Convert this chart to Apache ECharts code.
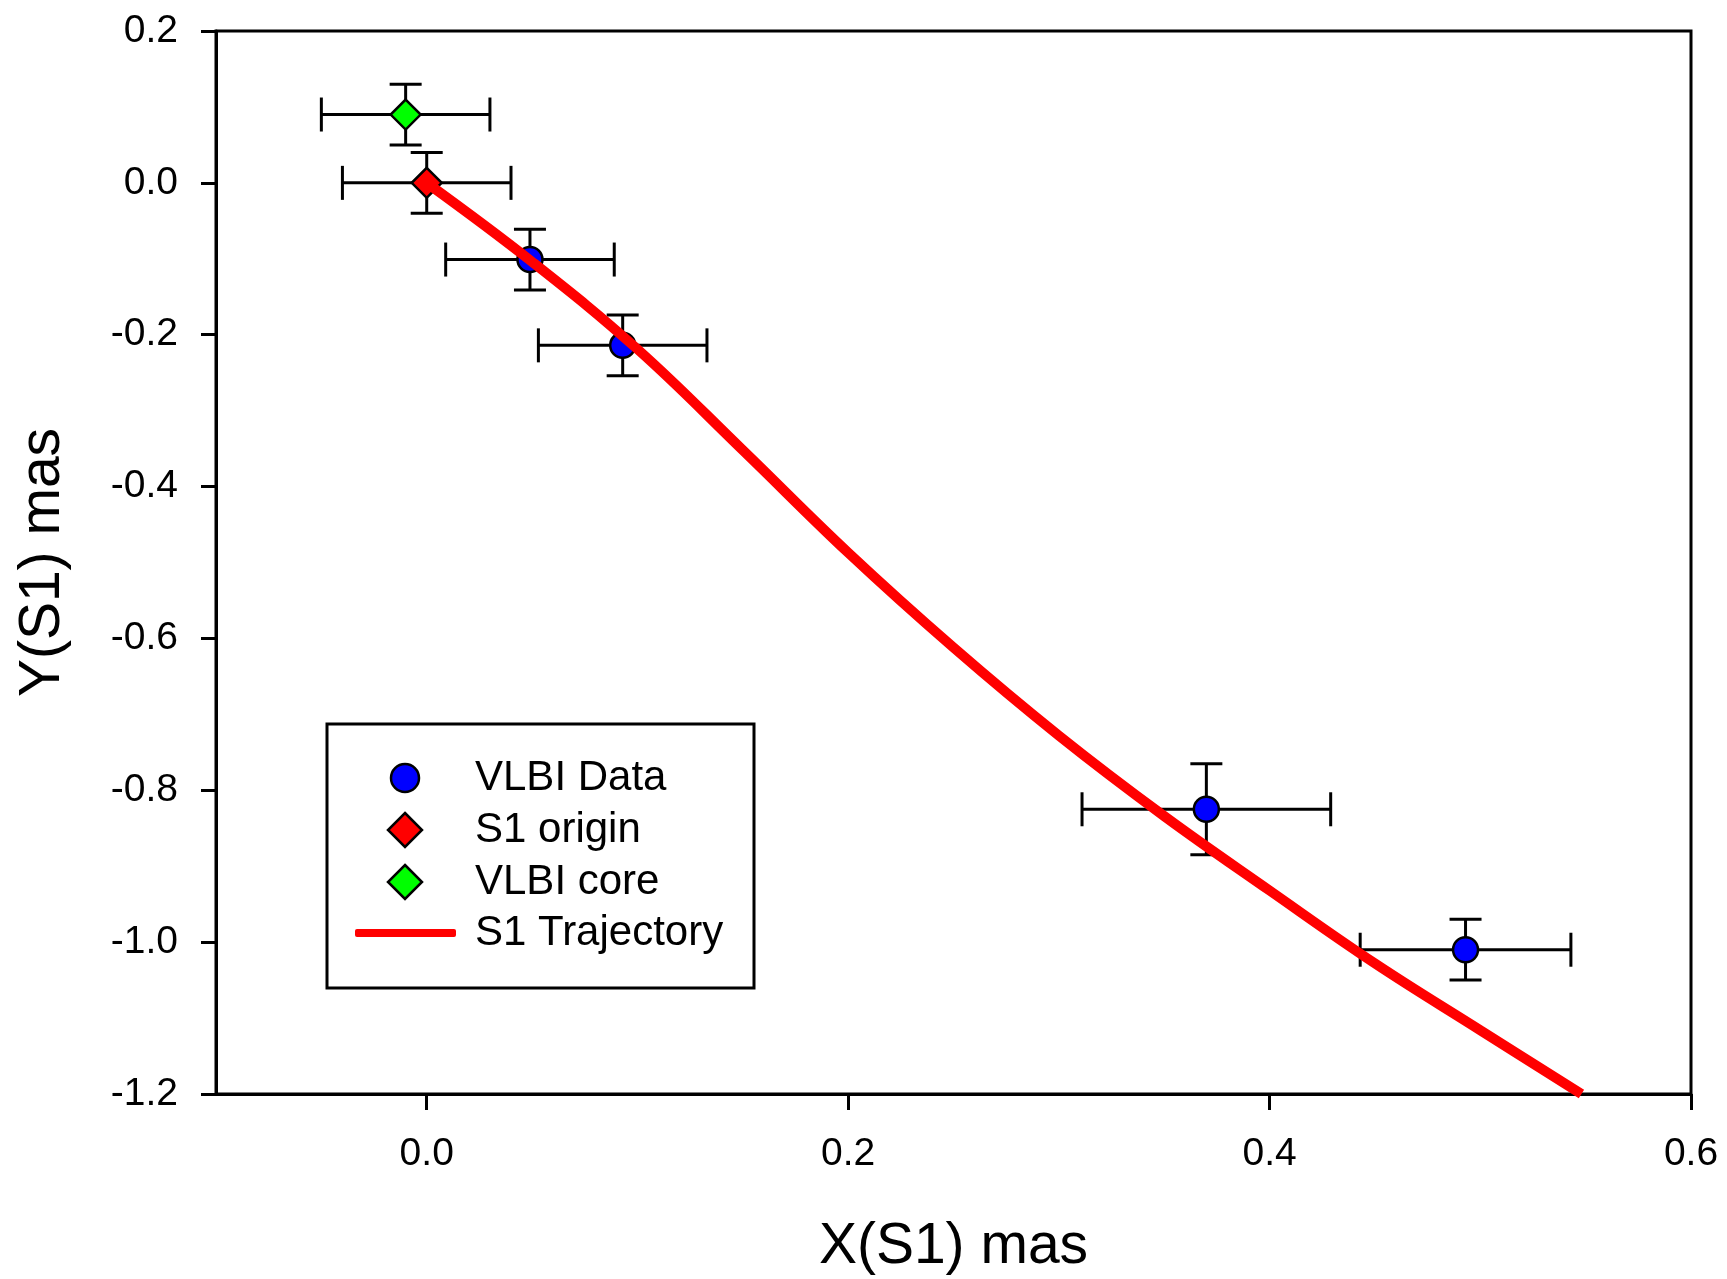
<!DOCTYPE html>
<html>
<head>
<meta charset="utf-8">
<script src="https://cdn.jsdelivr.net/npm/echarts@6/dist/echarts.min.js"></script>
<style>
html,body{margin:0;padding:0;background:#fff;}
#chart{width:1727px;height:1279px;}
</style>
</head>
<body>
<div id="chart"></div>
<script>
// ---- data ----
const vlbiX = [0.049, 0.093, 0.370, 0.493];
const vlbiY = [-0.101, -0.214, -0.825, -1.010];
const vlbiXErr = [0.04, 0.04, 0.059, 0.05];
const vlbiYErr = [0.04, 0.04, 0.06, 0.04];

const originX = [0.0];
const originY = [0.0];
const originXErr = [0.04];
const originYErr = [0.04];

const coreX = [-0.01];
const coreY = [0.09];
const coreXErr = [0.04];
const coreYErr = [0.04];

const trajX = [0, 0.05, 0.10, 0.15, 0.20, 0.25, 0.30, 0.35, 0.40, 0.45, 0.50, 0.548];
const trajY = [0, -0.104, -0.219, -0.352, -0.487, -0.612, -0.728, -0.834, -0.932, -1.028, -1.116, -1.200];

const xTicks = [0.0, 0.2, 0.4, 0.6];
const yTicks = [-1.2, -1.0, -0.8, -0.6, -0.4, -0.2, 0.0, 0.2];

const seriesNames = ['VLBI Data', 'S1 origin', 'VLBI core', 'S1 Trajectory'];
const xTitle = 'X(S1) mas';
const yTitle = 'Y(S1) mas';

// ---- build option ----
const FONT = 'Arial, "Liberation Sans", sans-serif';
const BLUE = '#0000ff', RED = '#ff0000', GREEN = '#00ff00';
function pairs(xs, ys) { return xs.map((x, i) => [x, ys[i]]); }
function errRows(xs, ys, ex, ey) { return xs.map((x, i) => [x, ys[i], ex[i], ey[i]]); }

const errData = []
  .concat(errRows(vlbiX, vlbiY, vlbiXErr, vlbiYErr))
  .concat(errRows(originX, originY, originXErr, originYErr))
  .concat(errRows(coreX, coreY, coreXErr, coreYErr));

const chart = echarts.init(document.getElementById('chart'), null, {renderer: 'canvas'});

// legend box (drawn with graphic elements for exact layout)
const LX = 405, TX = 475;
const rowY = [778, 830, 882, 933];
function diamond(cx, cy, h, fill) {
  return {type: 'polygon', z: 11,
    shape: {points: [[cx, cy - h], [cx + h, cy], [cx, cy + h], [cx - h, cy]]},
    style: {fill: fill, stroke: '#000', lineWidth: 2.5}};
}
function legendText(i) {
  return {type: 'text', z: 11, x: TX, y: rowY[i],
    style: {text: seriesNames[i], fill: '#000', font: '42px ' + FONT, textAlign: 'left', textVerticalAlign: 'middle'}};
}
const legendGraphics = [
  {type: 'rect', z: 10, shape: {x: 327, y: 724, width: 427, height: 264},
    style: {fill: '#fff', stroke: '#000', lineWidth: 3}},
  {type: 'circle', z: 11, shape: {cx: LX, cy: rowY[0], r: 14},
    style: {fill: BLUE, stroke: '#000', lineWidth: 2.5}},
  diamond(LX, rowY[1], 17, RED),
  diamond(LX, rowY[2], 17, GREEN),
  {type: 'rect', z: 11, shape: {x: 355, y: rowY[3] - 4, width: 101, height: 8, r: 2},
    style: {fill: RED}},
  legendText(0), legendText(1), legendText(2), legendText(3)
];

const option = {
  animation: false,
  backgroundColor: '#fff',
  grid: {
    left: 216, top: 31, width: 1475, height: 1063,
    show: true, borderColor: '#000', borderWidth: 3,
    containLabel: false, outerBoundsMode: 'none'
  },
  xAxis: {
    type: 'value', min: -0.1, max: 0.6,
    name: xTitle, nameLocation: 'middle', nameGap: 125,
    nameTextStyle: {fontSize: 57, color: '#000', fontFamily: FONT},
    axisLine: {show: true, onZero: false, lineStyle: {color: '#000', width: 3}},
    axisTick: {show: true, inside: false, length: 16, customValues: xTicks, lineStyle: {color: '#000', width: 3}},
    axisLabel: {show: true, customValues: xTicks, margin: 41, fontSize: 39, color: '#000', fontFamily: FONT,
      formatter: v => v.toFixed(1)},
    splitLine: {show: false}
  },
  yAxis: {
    type: 'value', min: -1.2, max: 0.2,
    name: yTitle, nameLocation: 'middle', nameGap: 144,
    nameTextStyle: {fontSize: 57, color: '#000', fontFamily: FONT},
    axisLine: {show: true, onZero: false, lineStyle: {color: '#000', width: 3}},
    axisTick: {show: true, inside: false, length: 15, customValues: yTicks, lineStyle: {color: '#000', width: 3}},
    axisLabel: {show: true, customValues: yTicks, margin: 38, fontSize: 39, color: '#000', fontFamily: FONT,
      formatter: v => (Math.abs(v) < 1e-9 ? 0 : v).toFixed(1)},
    splitLine: {show: false}
  },
  graphic: legendGraphics,
  series: [
    {
      type: 'custom', name: 'errors', z: 2, silent: true,
      data: errData,
      encode: {x: 0, y: 1},
      renderItem: function (params, api) {
        const x = api.value(0), y = api.value(1), ex = api.value(2), ey = api.value(3);
        const l = api.coord([x - ex, y]), r = api.coord([x + ex, y]);
        const t = api.coord([x, y + ey]), b = api.coord([x, y - ey]);
        const hc = 17, vc = 16;
        const st = {stroke: '#000', lineWidth: 3};
        const ln = (x1, y1, x2, y2) => ({type: 'line', shape: {x1, y1, x2, y2}, style: st});
        return {type: 'group', children: [
          ln(l[0], l[1], r[0], r[1]),
          ln(t[0], t[1], b[0], b[1]),
          ln(l[0], l[1] - hc, l[0], l[1] + hc),
          ln(r[0], r[1] - hc, r[0], r[1] + hc),
          ln(t[0] - vc, t[1], t[0] + vc, t[1]),
          ln(b[0] - vc, b[1], b[0] + vc, b[1])
        ]};
      }
    },
    {
      type: 'scatter', name: seriesNames[0], z: 3,
      data: pairs(vlbiX, vlbiY),
      symbol: 'circle', symbolSize: 25,
      itemStyle: {color: BLUE, borderColor: '#000', borderWidth: 2.5, opacity: 1}
    },
    {
      type: 'scatter', name: seriesNames[1], z: 3,
      data: pairs(originX, originY),
      symbol: 'diamond', symbolSize: 30,
      itemStyle: {color: RED, borderColor: '#000', borderWidth: 2.5, opacity: 1}
    },
    {
      type: 'scatter', name: seriesNames[2], z: 3,
      data: pairs(coreX, coreY),
      symbol: 'diamond', symbolSize: 30,
      itemStyle: {color: GREEN, borderColor: '#000', borderWidth: 2.5, opacity: 1}
    },
    {
      type: 'line', name: seriesNames[3], z: 4,
      data: pairs(trajX, trajY),
      showSymbol: false, symbol: 'none', smooth: 0.4,
      color: RED,
      lineStyle: {color: RED, width: 10}
    }
  ]
};
chart.setOption(option);
</script>
</body>
</html>
